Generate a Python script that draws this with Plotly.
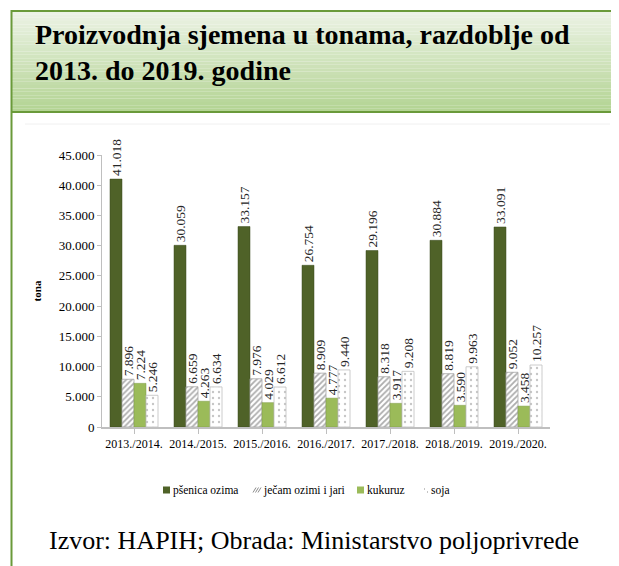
import plotly.graph_objects as go

categories = ["2013./2014.", "2014./2015.", "2015./2016.", "2016./2017.",
              "2017./2018.", "2018./2019.", "2019./2020."]
psenica = [41018, 30059, 33157, 26754, 29196, 30884, 33091]
jecam = [7896, 6659, 7976, 8909, 8318, 8819, 9052]
kukuruz = [7224, 4263, 4029, 4777, 3917, 3590, 3458]
soja = [5246, 6634, 6612, 9440, 9208, 9963, 10257]
series_names = ["pšenica ozima", "ječam ozimi i jari", "kukuruz", "soja"]
y_ticks = [0, 5000, 10000, 15000, 20000, 25000, 30000, 35000, 40000, 45000]

# page has an 8px body margin; work in figure coordinates
OFF = 8
W, H = 619 - OFF, 566 - OFF
L, R, T, B = 102 - OFF, 550 - OFF, 155 - OFF, 427 - OFF


def px(x):
    return (x - OFF - L) / (R - L)


def py(y):
    return (B - (y - OFF)) / (B - T)


SERIF = "Liberation Serif"
DARK = "#4F6228"
LIGHT = "#9BBB59"

fig = go.Figure()
styles = [
    dict(color=DARK, line=dict(color="#3b4a1e", width=0.5)),
    dict(color="white", pattern=dict(shape="/", fgcolor="#595959", size=4, solidity=0.45),
         line=dict(color="#a6a6a6", width=0.8)),
    dict(color=LIGHT, line=dict(color="#7f9a48", width=0.5)),
    dict(color="white", pattern=dict(shape=".", fgcolor="#8c8c8c", size=6, solidity=0.12),
         line=dict(color="#bfbfbf", width=0.8)),
]
for name, vals, st in zip(series_names, [psenica, jecam, kukuruz, soja], styles):
    fig.add_trace(go.Bar(
        x=categories, y=vals, name=name, marker=st,
        texttemplate="%{y:,.0f}", textposition="outside", textangle=-90,
        constraintext="none",
        textfont=dict(family=SERIF, size=13.5, color="#262626"),
        cliponaxis=False, showlegend=False,
    ))

shapes = []
# title gradient
n = 30
top, bot = 11, 112
for i in range(n):
    y0 = top + (bot - top) * i / n
    y1 = top + (bot - top) * (i + 1) / n
    t = i / (n - 1)
    c0 = (236, 243, 229)
    c1 = (180, 212, 148)
    col = tuple(int(c0[k] + (c1[k] - c0[k]) * t) for k in range(3))
    shapes.append(dict(type="rect", xref="paper", yref="paper",
                       x0=px(12), x1=px(619), y0=py(y0), y1=py(y1),
                       fillcolor="rgb(%d,%d,%d)" % col, line=dict(width=0), layer="below"))
border = "#6a9a3a"
shapes.append(dict(type="line", xref="paper", yref="paper", x0=px(11.5), x1=px(11.5),
                   y0=py(10), y1=py(566), line=dict(color=border, width=2)))
shapes.append(dict(type="line", xref="paper", yref="paper", x0=px(11), x1=px(619),
                   y0=py(11), y1=py(11), line=dict(color=border, width=2)))
shapes.append(dict(type="line", xref="paper", yref="paper", x0=px(11), x1=px(619),
                   y0=py(112), y1=py(112), line=dict(color=border, width=2)))
shapes.append(dict(type="line", xref="paper", yref="paper", x0=px(25), x1=px(610),
                   y0=py(124), y1=py(124), line=dict(color="#f0f0f0", width=1)))

# custom compact legend (page coordinates)
leg_y = 490
sym_x = [163, 253, 357, 422]
txt_x = [171, 261, 365, 429]
s = 7
for i, sx in enumerate(sym_x):
    x0, x1, y0, y1 = sx, sx + s, leg_y - s / 2, leg_y + s / 2
    if i == 0 or i == 2:
        shapes.append(dict(type="rect", xref="paper", yref="paper",
                           x0=px(x0), x1=px(x1), y0=py(y0), y1=py(y1),
                           fillcolor=DARK if i == 0 else LIGHT, line=dict(width=0)))
    elif i == 1:
        for k in range(3):
            a = x0 + k * 2.5
            shapes.append(dict(type="line", xref="paper", yref="paper",
                               x0=px(a), x1=px(a + 3), y0=py(y1 - 1), y1=py(y0 + 1),
                               line=dict(color="#8c8c8c", width=1)))
    else:
        for (dx, dy) in [(2, 2), (5, 5)]:
            shapes.append(dict(type="rect", xref="paper", yref="paper",
                               x0=px(x0 + dx), x1=px(x0 + dx + 1), y0=py(y0 + dy),
                               y1=py(y0 + dy + 1), fillcolor="#8c8c8c", line=dict(width=0)))

annotations = [
    dict(text="<b>Proizvodnja sjemena u tonama, razdoblje od<br>2013. do 2019. godine</b>",
         xref="paper", yref="paper", x=px(33), y=py(52), xanchor="left", yanchor="middle",
         align="left", showarrow=False,
         font=dict(family=SERIF, size=28, color="black")),
    dict(text="Izvor: HAPIH; Obrada: Ministarstvo poljoprivrede",
         xref="paper", yref="paper", x=px(314), y=py(540), xanchor="center", yanchor="middle",
         showarrow=False, font=dict(family=SERIF, size=26, color="black")),
]
for name, tx in zip(series_names, txt_x):
    annotations.append(dict(text=name, xref="paper", yref="paper", x=px(tx), y=py(leg_y),
                            xanchor="left", yanchor="middle", showarrow=False,
                            font=dict(family=SERIF, size=11.5, color="black")))

fig.update_layout(
    width=W, height=H,
    margin=dict(l=L, r=W - R, t=T, b=H - B, pad=0),
    paper_bgcolor="white", plot_bgcolor="white",
    barmode="group", bargap=0.25, bargroupgap=0.0,
    separators=",.",
    shapes=shapes, annotations=annotations,
    showlegend=False,
    font=dict(family=SERIF, color="black"),
)
fig.update_xaxes(showline=True, linecolor="#bfbfbf", linewidth=1.5, ticks="outside",
                 ticklen=5, tickcolor="#bfbfbf",
                 tickfont=dict(family=SERIF, size=12, color="black"), showgrid=False)
fig.update_yaxes(range=[0, 45000], tickvals=y_ticks, tickformat=",.0f",
                 showline=True, linecolor="#bfbfbf", linewidth=1, ticks="outside",
                 ticklen=4, tickcolor="#bfbfbf", showgrid=False, zeroline=False,
                 tickfont=dict(family=SERIF, size=13, color="black"),
                 title=dict(text="<b>tona</b>", font=dict(family=SERIF, size=11), standoff=14))

fig.write_html("out.html")
